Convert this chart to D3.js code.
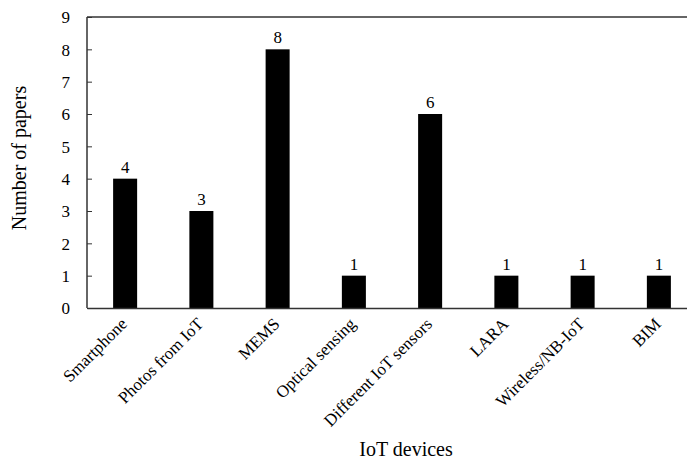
<!DOCTYPE html>
<html><head><meta charset="utf-8">
<script src="https://cdnjs.cloudflare.com/ajax/libs/d3/7.8.5/d3.min.js"></script>
<style>body{margin:0;background:#fff;} svg text{font-family:'Liberation Serif','Times New Roman','DejaVu Serif',serif !important;fill:#000;}</style>
</head><body><svg id="c" width="687" height="464"></svg>
<script>
const categories = ["Smartphone","Photos from IoT","MEMS","Optical sensing","Different IoT sensors","LARA","Wireless/NB-IoT","BIM"];
const values = [4,3,8,1,6,1,1,1];
const yTicks = [0,1,2,3,4,5,6,7,8,9];

const FONT = "'Liberation Serif','Times New Roman','DejaVu Serif',serif";
const svg = d3.select("#c");
const mLeft = 87, mRight = 697, mTop = 17, mBottom = 308;
const x = d3.scaleBand().domain(categories).range([mLeft, mRight]).paddingInner(0.685).paddingOuter(0.3425);
const y = d3.scaleLinear().domain([0, 9]).range([mBottom, mTop]);

// frame top
svg.append("line").attr("x1", mLeft).attr("x2", mRight).attr("y1", mTop).attr("y2", mTop).attr("stroke", "#333").attr("stroke-width", 1.5);

// bars
svg.selectAll("rect.bar").data(values).enter().append("rect")
  .attr("x", (d, i) => x(categories[i])).attr("width", x.bandwidth())
  .attr("y", d => y(d)).attr("height", d => y(0) - y(d)).attr("fill", "#000");

// value labels
svg.selectAll("text.val").data(values).enter().append("text")
  .attr("x", (d, i) => x(categories[i]) + x.bandwidth() / 2).attr("y", d => y(d) - 6)
  .attr("text-anchor", "middle").attr("font-family", FONT).attr("font-size", 17).text(d => d);

// y axis
const ya = svg.append("g").attr("transform", `translate(${mLeft},0)`)
  .call(d3.axisRight(y).tickValues(yTicks).tickSize(5).tickFormat(d3.format("d")));
ya.attr("font-family", FONT);
ya.select(".domain").attr("stroke", "#333").attr("stroke-width", 1.5).attr("d", `M0,${mTop}V${mBottom}`);
ya.selectAll(".tick line").attr("stroke", "#333");
ya.selectAll(".tick text").attr("x", -17).attr("text-anchor", "end").attr("font-size", 17).attr("dy", "0.35em");

// x axis
const xa = svg.append("g").attr("transform", `translate(0,${mBottom})`)
  .call(d3.axisBottom(x).tickSize(0));
xa.attr("font-family", FONT);
xa.select(".domain").attr("stroke", "#333").attr("stroke-width", 1.5);
xa.selectAll(".tick text").attr("font-size", 17)
  .attr("text-anchor", "end").attr("dy", 0).attr("y", 0)
  .attr("transform", "translate(3,17) rotate(-45)");

// titles
svg.append("text").attr("x", 406).attr("y", 456).attr("text-anchor", "middle").attr("font-family", FONT).attr("font-size", 20).text("IoT devices");
svg.append("text").attr("transform", `translate(26,158) rotate(-90)`)
  .attr("text-anchor", "middle").attr("font-family", FONT).attr("font-size", 20).text("Number of papers");
</script></body></html>
